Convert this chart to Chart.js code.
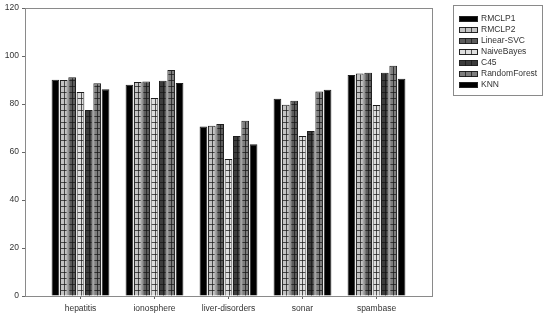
<!DOCTYPE html>
<html>
<head>
<meta charset="utf-8">
<script src="https://cdn.jsdelivr.net/npm/chart.js@4"></script>
<style>
  html, body { margin: 0; padding: 0; background: #fff; }
  #wrap { width: 544px; height: 319px; }
</style>
</head>
<body>
<div id="wrap"><canvas id="diagram"></canvas></div>
<script>
const categories = ["hepatitis", "ionosphere", "liver-disorders", "sonar", "spambase"];
const methods = ["RMCLP1", "RMCLP2", "Linear-SVC", "NaiveBayes", "C45", "RandomForest", "KNN"];

const rmclp1 = [90.1, 88.0, 70.6, 82.2, 92.1];
const rmclp2 = [90.0, 89.2, 71.0, 79.7, 92.7];
const linearSvc = [91.2, 89.4, 71.7, 81.4, 93.1];
const naiveBayes = [85.0, 82.5, 57.1, 66.7, 79.6];
const c45 = [77.5, 89.7, 66.7, 68.8, 93.1];
const randomForest = [88.7, 94.2, 73.0, 85.2, 96.0];
const knn = [86.2, 88.8, 63.2, 86.0, 90.6];

const yTicks = [0, 20, 40, 60, 80, 100, 120];

const series = [rmclp1, rmclp2, linearSvc, naiveBayes, c45, randomForest, knn];
const fills = ["#000000", "#c4c4c4", "#5c5c5c", "#dedede", "#3c3c3c", "#7e7e7e", "#000000"];
const hatched = [false, true, true, true, true, true, false];

const font = "Liberation Sans, Arial, sans-serif";

// grid hatching drawn over each bar element
const hatchPlugin = {
    id: "hatch",
    afterDatasetsDraw(chart) {
        const c = chart.ctx;
        c.save();
        chart.data.datasets.forEach((ds, i) => {
            if (!hatched[i]) return;
            chart.getDatasetMeta(i).data.forEach(bar => {
                const left = bar.x - bar.width / 2, right = bar.x + bar.width / 2;
                c.strokeStyle = "rgba(20,20,20,0.7)";
                c.lineWidth = 1;
                c.beginPath();
                for (let y = bar.base - 6; y > bar.y + 2; y -= 6) {
                    c.moveTo(left + 1, Math.round(y) + 0.5);
                    c.lineTo(right - 1, Math.round(y) + 0.5);
                }
                c.moveTo(Math.round(bar.x) + 0.5, bar.y + 1);
                c.lineTo(Math.round(bar.x) + 0.5, bar.base);
                c.stroke();
            });
        });
        c.restore();
    }
};

// plot frame plus boxed legend on the right
const framePlugin = {
    id: "frame",
    afterDraw(chart) {
        const c = chart.ctx;
        const a = chart.chartArea;
        c.save();
        c.strokeStyle = "#8a8a8a";
        c.lineWidth = 1;
        c.strokeRect(Math.round(a.left) + 0.5, Math.round(a.top) + 0.5,
            Math.round(a.right - a.left), Math.round(a.bottom - a.top));

        const bx = 453, by = 5, bw = 89, bh = 90;
        c.strokeStyle = "#8a8a8a";
        c.strokeRect(bx + 0.5, by + 0.5, bw, bh);
        c.font = "8.5px " + font;
        c.textBaseline = "middle";
        methods.forEach((m, i) => {
            const y = 19 + i * 11;
            const sx = 459, sw = 19, sh = 6;
            c.fillStyle = fills[i];
            c.fillRect(sx, y - sh / 2, sw, sh);
            c.strokeStyle = "#222";
            c.strokeRect(sx + 0.5, y - sh / 2 + 0.5, sw - 1, sh - 1);
            if (hatched[i]) {
                c.strokeStyle = "rgba(20,20,20,0.7)";
                c.beginPath();
                [6, 12].forEach(dx => {
                    c.moveTo(sx + dx + 0.5, y - sh / 2);
                    c.lineTo(sx + dx + 0.5, y + sh / 2);
                });
                c.stroke();
            }
            c.fillStyle = "#333";
            c.fillText(m, 481, y);
        });
        c.restore();
    }
};

new Chart(document.getElementById("diagram"), {
    type: "bar",
    data: {
        datasets: methods.map((m, i) => ({
            label: m,
            data: series[i].map((v, k) => ({ x: k, y: v })),
            backgroundColor: fills[i],
            borderColor: "#1e1e1e",
            borderWidth: 1,
            barPercentage: 0.92,
            categoryPercentage: 0.79,
        })),
    },
    options: {
        responsive: true,
        maintainAspectRatio: false,
        animation: false,
        layout: { padding: { top: 6, right: 112, left: 0, bottom: 0 } },
        plugins: {
            legend: { display: false },
            tooltip: { enabled: false },
        },
        scales: {
            x: {
                type: "linear",
                min: -0.75,
                max: 4.75,
                offset: false,
                afterBuildTicks(scale) {
                    scale.ticks = categories.map((_, k) => ({ value: k }));
                },
                afterFit(scale) { scale.height = 23; },
                ticks: {
                    callback: v => categories[v],
                    autoSkip: false,
                    maxRotation: 0,
                    padding: 5,
                    color: "#333",
                    font: { family: font, size: 8.5 },
                },
                grid: { offset: false, drawOnChartArea: false, tickLength: 3, color: "#666" },
                border: { display: false },
            },
            y: {
                min: 0,
                max: 120,
                afterBuildTicks(scale) {
                    scale.ticks = yTicks.map(v => ({ value: v }));
                },
                afterFit(scale) { scale.width = 25; },
                ticks: {
                    padding: 3,
                    color: "#333",
                    font: { family: font, size: 8.5 },
                },
                grid: { drawOnChartArea: false, tickLength: 3, color: "#666" },
                border: { display: false },
            },
        },
    },
    plugins: [hatchPlugin, framePlugin],
});
</script>
</body>
</html>
